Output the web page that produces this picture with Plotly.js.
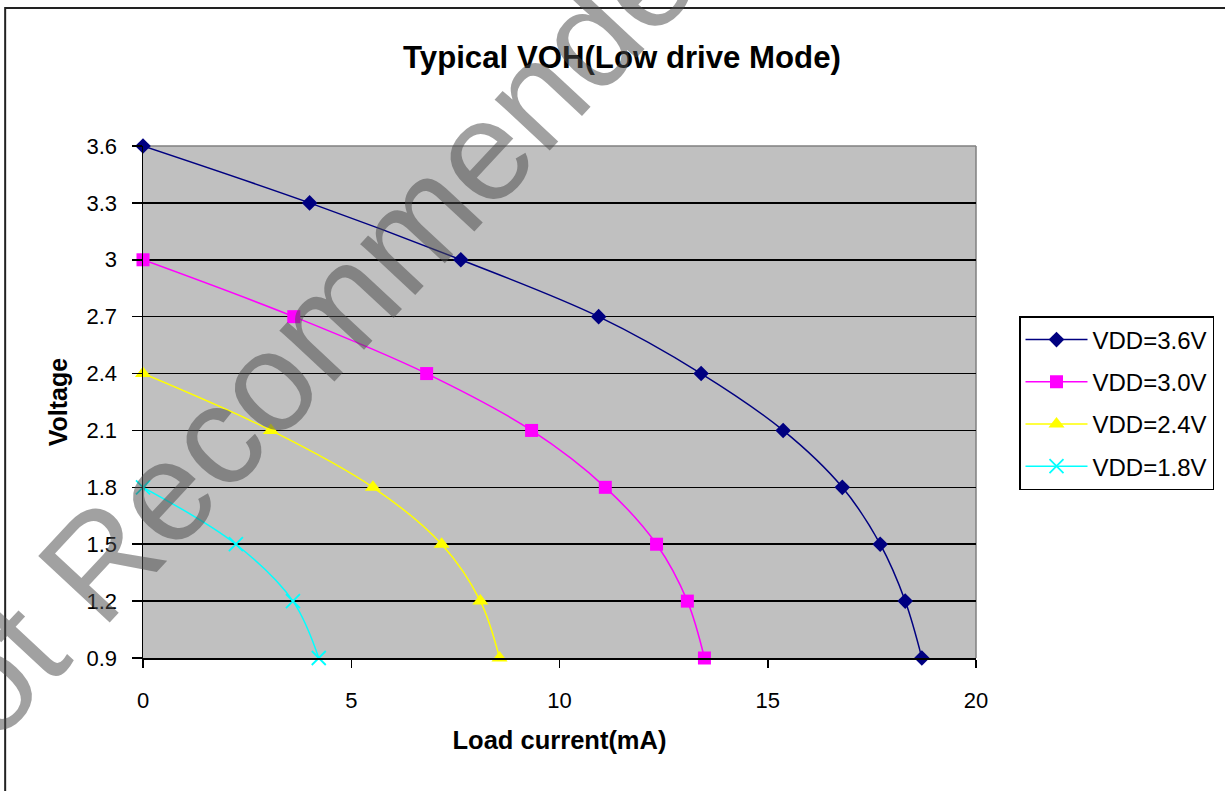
<!DOCTYPE html>
<html>
<head>
<meta charset="utf-8">
<script src="https://cdn.plot.ly/plotly-3.0.1.min.js"></script>
<style>
html,body{margin:0;padding:0;background:#fff;}
#chart{width:1225px;height:791px;}
</style>
</head>
<body>
<div id="chart"></div>
<script>
// Data
const current36 = [0, 4.0, 7.63, 10.94, 13.4, 15.37, 16.79, 17.7, 18.3, 18.7];
const voltage36 = [3.6, 3.3, 3.0, 2.7, 2.4, 2.1, 1.8, 1.5, 1.2, 0.9];
const current30 = [0, 3.62, 6.81, 9.33, 11.1, 12.33, 13.07, 13.48];
const voltage30 = [3.0, 2.7, 2.4, 2.1, 1.8, 1.5, 1.2, 0.9];
const current24 = [0, 3.07, 5.52, 7.17, 8.1, 8.56];
const voltage24 = [2.4, 2.1, 1.8, 1.5, 1.2, 0.9];
const current18 = [0, 2.23, 3.6, 4.22];
const voltage18 = [1.8, 1.5, 1.2, 0.9];
const seriesNames = ["VDD=3.6V", "VDD=3.0V", "VDD=2.4V", "VDD=1.8V"];
const yTickVals = [0.9, 1.2, 1.5, 1.8, 2.1, 2.4, 2.7, 3.0, 3.3, 3.6];
const yTickText = ["0.9", "1.2", "1.5", "1.8", "2.1", "2.4", "2.7", "3", "3.3", "3.6"];
const xTickVals = [0, 5, 10, 15, 20];
const xTickText = ["0", "5", "10", "15", "20"];

const FONT = "Liberation Sans, Arial, sans-serif";

function mk(x, y, name, color, symbol, size, group) {
  return {
    x: x, y: y, name: name, type: "scatter", mode: "lines+markers",
    legendgroup: group,
    line: {color: color, width: 1.5, shape: "spline", smoothing: 1},
    marker: {color: color, symbol: symbol, size: size, line: {color: color, width: symbol === "x-thin" ? 1.8 : 0}},
    cliponaxis: false
  };
}

const data = [
  mk(current36, voltage36, seriesNames[0], "#000080", "diamond", 12, "g1"),
  mk(current30, voltage30, seriesNames[1], "#FF00FF", "square", 13, "g2"),
  mk(current24, voltage24, seriesNames[2], "#FFFF00", "triangle-up", 14, "g3"),
  mk(current18, voltage18, seriesNames[3], "#00FFFF", "x-thin", 14, "g4")
];

const layout = {
  width: 1225, height: 791,
  margin: {l: 143, r: 248, t: 146, b: 133, pad: 0},
  paper_bgcolor: "#ffffff",
  plot_bgcolor: "#C0C0C0",
  font: {family: FONT, color: "#000", size: 22},
  title: {
    text: "<b>Typical VOH(Low drive Mode)</b>",
    font: {family: FONT, size: 31.2, color: "#000"},
    x: 622 / 1225, xanchor: "center", xref: "container",
    y: 1 - 57 / 791, yanchor: "middle", yref: "container"
  },
  xaxis: {
    range: [0, 20], tickvals: xTickVals, ticktext: xTickText,
    showgrid: false, zeroline: false,
    showline: true, linecolor: "#000", linewidth: 1.5,
    ticks: "outside", ticklen: 8, tickwidth: 1.5, tickcolor: "#000",
    ticklabelstandoff: 14,
    tickfont: {family: FONT, size: 22, color: "#000"},
    title: {text: "<b>Load current(mA)</b>", font: {family: FONT, size: 25.5, color: "#000"}, standoff: 19},
    fixedrange: true
  },
  yaxis: {
    range: [0.9, 3.6], tickvals: yTickVals, ticktext: yTickText,
    showgrid: true, gridcolor: "#000", gridwidth: 1.5, zeroline: false,
    showline: true, linecolor: "#000", linewidth: 1.5,
    ticks: "outside", ticklen: 10, tickwidth: 1.5, tickcolor: "#000",
    ticklabelstandoff: 10,
    tickfont: {family: FONT, size: 22, color: "#000"},
    title: {text: "<b>Voltage</b>", font: {family: FONT, size: 25, color: "#000"}, standoff: 12},
    fixedrange: true
  },
  legend: {
    x: (1019 - 143) / 834, xanchor: "left",
    y: (658 - 316) / 512, yanchor: "top",
    bgcolor: "#ffffff", bordercolor: "#000", borderwidth: 1.5,
    font: {family: FONT, size: 24, color: "#000"},
    traceorder: "grouped", tracegroupgap: 8,
    itemwidth: 62
  },
  shapes: [
    {type: "line", xref: "paper", yref: "paper", x0: 0, x1: 1, y0: 1, y1: 1,
     line: {color: "#808080", width: 1.5}, layer: "between"},
    {type: "line", xref: "paper", yref: "paper", x0: 1, x1: 1, y0: 0, y1: 1,
     line: {color: "#808080", width: 1.5}, layer: "between"},
    {type: "rect", xref: "paper", yref: "paper",
     x0: (5 - 143) / 834, x1: 2, y0: -1, y1: (658 - 8) / 512,
     line: {color: "#222", width: 2}, fillcolor: "rgba(0,0,0,0)", layer: "above"}
  ],
  annotations: [
    {text: "Not Recommended", xref: "paper", yref: "paper",
     x: (305 - 143) / 834, y: (658 - 340) / 512, xanchor: "center", yanchor: "middle",
     showarrow: false, textangle: -47,
     font: {family: FONT, size: 142, color: "rgba(75,75,75,0.52)"}}
  ],
  showlegend: true
};

Plotly.newPlot("chart", data, layout, {displayModeBar: false, staticPlot: true});
</script>
</body>
</html>
